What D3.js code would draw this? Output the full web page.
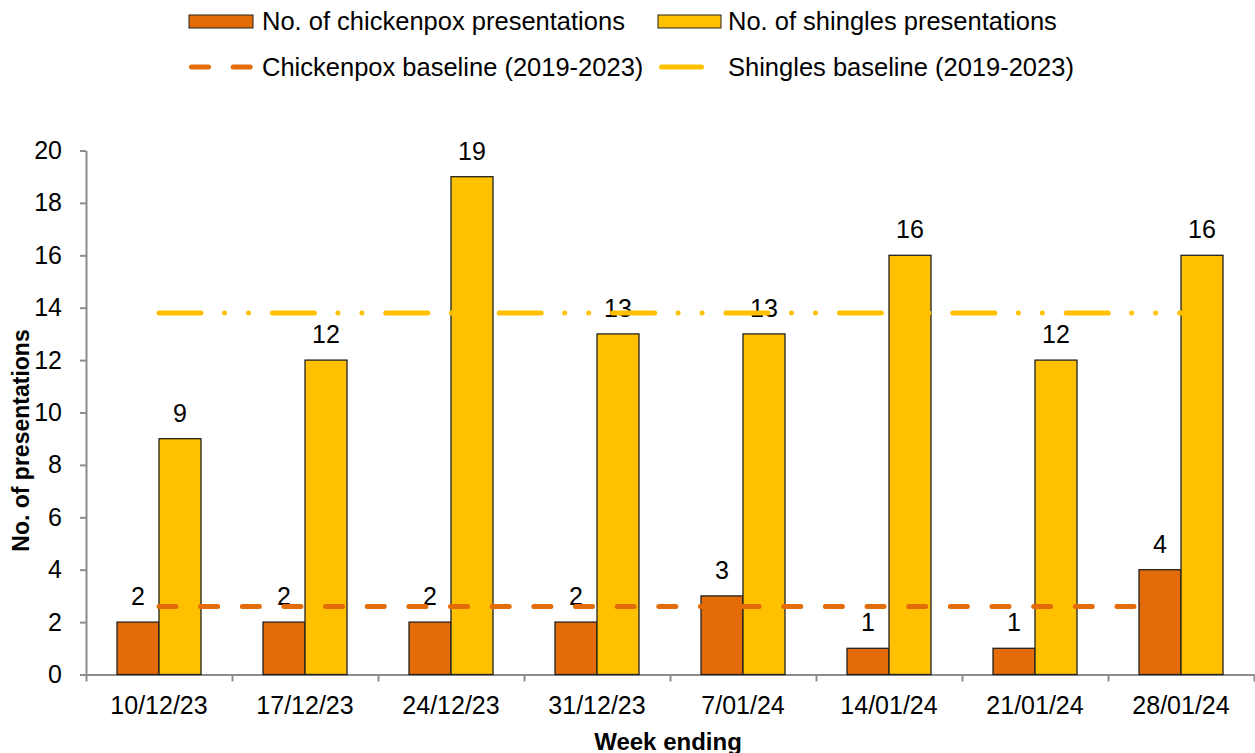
<!DOCTYPE html>
<html>
<head>
<meta charset="utf-8">
<script src="https://cdn.jsdelivr.net/npm/d3@7"></script>
<style>
  body { margin: 0; background: #fff; }
  svg { display: block; font-family: Arial, "Liberation Sans", sans-serif; }
</style>
</head>
<body>
<svg id="chart" width="1255" height="753"></svg>
<script>
let weeks = ['10/12/23', '17/12/23', '24/12/23', '31/12/23', '7/01/24', '14/01/24', '21/01/24', '28/01/24'];
let chickenpox = [2, 2, 2, 2, 3, 1, 1, 4];
let shingles = [9, 12, 19, 13, 13, 16, 12, 16];
let chickenpoxBaseline = [2.6, 2.6, 2.6, 2.6, 2.6, 2.6, 2.6, 2.6];
let shinglesBaseline = [13.8, 13.8, 13.8, 13.8, 13.8, 13.8, 13.8, 13.8];
let yTicks = [0, 2, 4, 6, 8, 10, 12, 14, 16, 18, 20];

let orange = '#E36C09', gold = '#FFC000', axisGrey = '#8c8c8c';

let svg = d3.select('#chart');
let plotLeft = 86, plotRight = 1254, plotTop = 150.5, plotBottom = 674.5;

let x = d3.scaleBand().domain(weeks).range([plotLeft, plotRight]);
let xEdge = d3.scaleLinear().domain([0, weeks.length]).range([plotLeft, plotRight]);
let x1 = d3.scaleBand().domain(['cp', 'sh']).range([31, 115]);
let y = d3.scaleLinear().domain([0, 20]).range([plotBottom, plotTop]);

let rows = weeks.map((w, i) => ({week: w, cp: chickenpox[i], sh: shingles[i],
  cpBase: chickenpoxBaseline[i], shBase: shinglesBaseline[i]}));

// y axis
let yAxis = svg.append('g')
  .attr('transform', 'translate(' + plotLeft + ',0)')
  .call(d3.axisLeft(y).tickValues(yTicks).tickSize(6).tickSizeOuter(0).tickPadding(18));
yAxis.selectAll('text').style('font-size', '25px').style('fill', '#000');

// x axis: edge ticks from a linear scale, labels from the band scale
let xTickAxis = svg.append('g')
  .attr('transform', 'translate(0,' + plotBottom + ')')
  .call(d3.axisBottom(xEdge).ticks(weeks.length).tickFormat('').tickSize(7).tickSizeOuter(0));
let xLabelAxis = svg.append('g')
  .attr('transform', 'translate(0,' + plotBottom + ')')
  .call(d3.axisBottom(x).tickSize(0).tickPadding(22));
xLabelAxis.select('.domain').remove();
xLabelAxis.selectAll('text').style('font-size', '25px').style('fill', '#000');

svg.selectAll('.domain, .tick line')
  .attr('stroke', axisGrey)
  .attr('stroke-width', 2);

// bars
let groups = svg.selectAll('.week')
  .data(rows).enter()
  .append('g')
  .attr('class', 'week')
  .attr('transform', d => 'translate(' + x(d.week) + ',0)');

let series = [{key: 'cp', color: orange}, {key: 'sh', color: gold}];
series.forEach(s => {
  groups.append('rect')
    .attr('x', x1(s.key))
    .attr('y', d => y(d[s.key]))
    .attr('width', x1.bandwidth())
    .attr('height', d => plotBottom - y(d[s.key]))
    .attr('fill', s.color)
    .attr('stroke', '#222')
    .attr('stroke-width', 1.3);
});

// baselines
let line = key => d3.line()
  .x(d => x(d.week) + x.bandwidth() / 2)
  .y(d => y(d[key]));

svg.append('path')
  .attr('d', line('cpBase')(rows))
  .attr('fill', 'none')
  .attr('stroke', orange)
  .attr('stroke-width', 5)
  .attr('stroke-linecap', 'round')
  .attr('stroke-dasharray', '17,24.65');

svg.append('path')
  .attr('d', line('shBase')(rows))
  .attr('fill', 'none')
  .attr('stroke', gold)
  .attr('stroke-width', 5)
  .attr('stroke-linecap', 'round')
  .attr('stroke-dasharray', '42,23.5,0,24,0,23.9');

// data labels
series.forEach(s => {
  groups.append('text')
    .attr('x', x1(s.key) + x1.bandwidth() / 2)
    .attr('y', d => y(d[s.key]) - 17)
    .attr('text-anchor', 'middle')
    .style('font-size', '25px')
    .text(d => d[s.key]);
});

// axis titles
svg.append('text')
  .attr('transform', 'translate(29,' + ((plotTop + plotBottom) / 2 + 28) + ') rotate(-90)')
  .attr('text-anchor', 'middle')
  .style('font-size', '23px')
  .style('font-weight', 'bold')
  .text('No. of presentations');

svg.append('text')
  .attr('x', (plotLeft + plotRight) / 2 - 2)
  .attr('y', 750)
  .attr('text-anchor', 'middle')
  .style('font-size', '24px')
  .style('font-weight', 'bold')
  .text('Week ending');

// legend
let legend = svg.append('g');
legend.append('rect').attr('x', 189).attr('y', 15).attr('width', 64).attr('height', 13)
  .attr('fill', orange).attr('stroke', '#222');
legend.append('rect').attr('x', 658).attr('y', 15).attr('width', 63).attr('height', 13)
  .attr('fill', gold).attr('stroke', '#222');
legend.append('path').attr('d', 'M191.5,67H250.5')
  .attr('stroke', orange).attr('stroke-width', 5).attr('stroke-linecap', 'round')
  .attr('stroke-dasharray', '17,24.65');
legend.append('path').attr('d', 'M661.5,67H701.5')
  .attr('stroke', gold).attr('stroke-width', 5).attr('stroke-linecap', 'round');

let legendText = [
  {x: 262, y: 30, t: 'No. of chickenpox presentations'},
  {x: 728, y: 30, t: 'No. of shingles presentations'},
  {x: 262, y: 76, t: 'Chickenpox baseline (2019-2023)'},
  {x: 728, y: 76, t: 'Shingles baseline (2019-2023)'}
];
legend.selectAll('text.lg')
  .data(legendText).enter()
  .append('text')
  .attr('class', 'lg')
  .attr('x', d => d.x)
  .attr('y', d => d.y)
  .style('font-size', '25.5px')
  .text(d => d.t);
</script>
</body>
</html>
